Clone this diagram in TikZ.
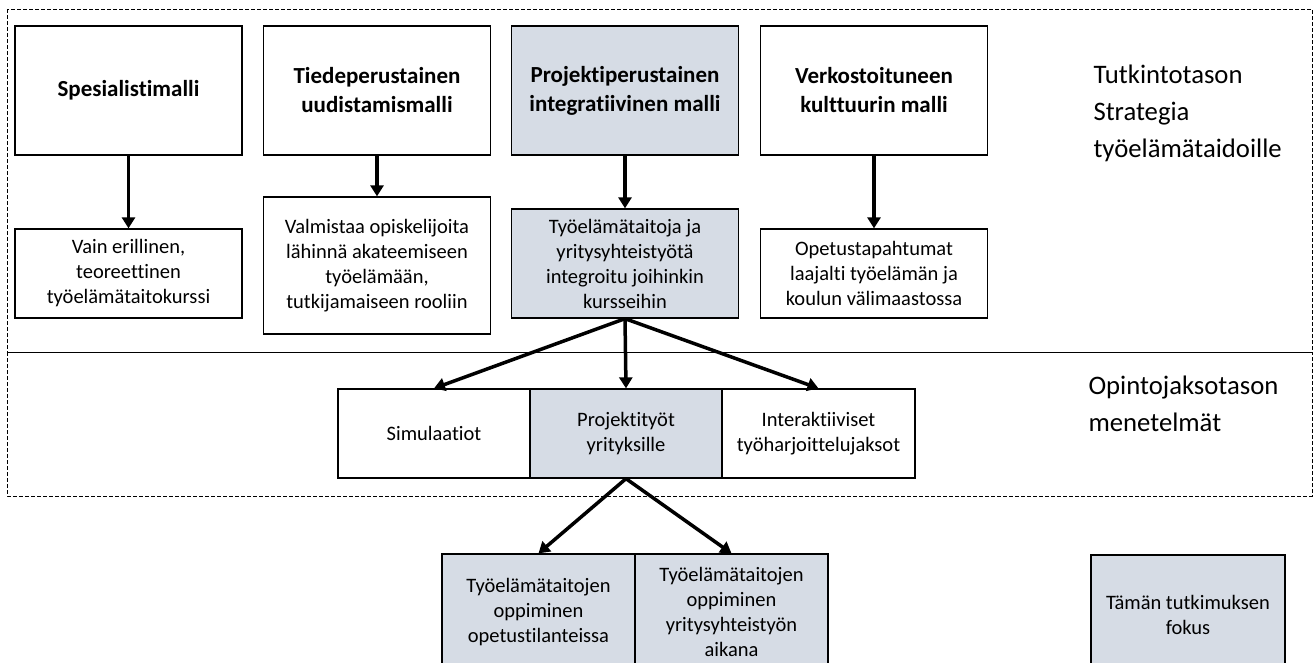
\documentclass[tikz,border=0pt]{standalone}
\usepackage{fontspec}
\setmainfont{Carlito}[Ligatures=NoCommon]
\usetikzlibrary{positioning, arrows.meta}

\definecolor{fokus}{HTML}{D6DCE5}

\begin{document}
\begin{tikzpicture}[x=1pt, y=-1pt,
      box/.style={draw, line width=1.3pt, align=center, inner sep=2pt,
        font=\fontsize{20.5}{25}\selectfont},
      malli/.style={box, minimum width=227pt, minimum height=129pt,
        font=\fontsize{23}{29}\selectfont\bfseries},
      kuvaus/.style={box, minimum width=227pt},
      menetelma/.style={box, minimum width=192pt, minimum height=89pt},
      oppiminen/.style={box, fill=fokus, minimum width=193pt, minimum height=116pt},
      taso/.style={align=left, anchor=west, font=\fontsize{26.7}{37}\selectfont},
      raja/.style={draw, line width=0.9pt, dash pattern=on 4pt off 2pt},
      flow/.style={-{Triangle[length=11pt,width=13pt]}, line width=3.5pt}]
      \clip (0,0) rectangle (1315,662);
      % tason rajat
      \path[raja] (7,9) rectangle (1312,352);
      \path[raja] (7,352) rectangle (1312,496);
      % mallit
      \node[malli] (m_1) at(128.5,90.5) {Spesialistimalli};
      \node[malli] (m_2) at(377,90.5) {Tiedeperustainen\\uudistamismalli};
      \node[malli, fill=fokus] (m_3) at(625,90.5) {Projektiperustainen\\integratiivinen malli};
      \node[malli] (m_4) at(874,90.5) {Verkostoituneen\\kulttuurin malli};
      % kuvaukset
      \node[kuvaus, minimum height=89pt] (k_1) at(128.5,273.5)
        {Vain erillinen,\\teoreettinen\\työelämätaitokurssi};
      \node[kuvaus, minimum height=137pt] (k_2) at(377,265.5)
        {Valmistaa opiskelijoita\\lähinnä akateemiseen\\työelämään,\\tutkijamaiseen rooliin};
      \node[kuvaus, minimum height=109pt, fill=fokus] (k_3) at(625,263.5)
        {Työelämätaitoja ja\\yritysyhteistyötä\\integroitu joihinkin\\kursseihin};
      \node[kuvaus, minimum height=89pt] (k_4) at(874,273.5)
        {Opetustapahtumat\\laajalti työelämän ja\\koulun välimaastossa};
      \path[flow] (m_1) edge (k_1);
      \path[flow] (m_2) edge (k_2);
      \path[flow] (m_3) edge (k_3);
      \path[flow] (m_4) edge (k_4);
      % menetelmät
      \node[menetelma] (sim) at(434,433.5) {Simulaatiot};
      \node[menetelma, fill=fokus] (pro) at(626,433.5) {Projektityöt\\yrityksille};
      \node[menetelma, minimum width=193pt] (int) at(818.5,433.5)
        {Interaktiiviset\\työharjoittelujaksot};
      \path[flow] (k_3.south) edge (sim.north);
      \path[flow] (k_3.south) edge (pro.north);
      \path[flow] (k_3.south) edge (int.north);
      % oppiminen
      \node[oppiminen] (o_1) at(538.5,612)
        {Työelämätaitojen\\oppiminen\\opetustilanteissa};
      \node[oppiminen] (o_2) at(731.5,612)
        {Työelämätaitojen\\oppiminen\\yritysyhteistyön\\aikana};
      \path[flow] (pro.south) edge (o_1.north);
      \path[flow] (pro.south) edge (o_2.north);
      % tasot
      \node[taso] (t_1) at(1090,113) {Tutkintotason\\Strategia\\työelämätaidoille};
      \node[taso] (t_2) at(1085,404) {Opintojaksotason\\menetelmät};
      \node[box, fill=fokus, minimum width=194pt, minimum height=120pt] (fokus) at(1188,615)
        {Tämän tutkimuksen\\fokus};
  \end{tikzpicture}
\end{document}
